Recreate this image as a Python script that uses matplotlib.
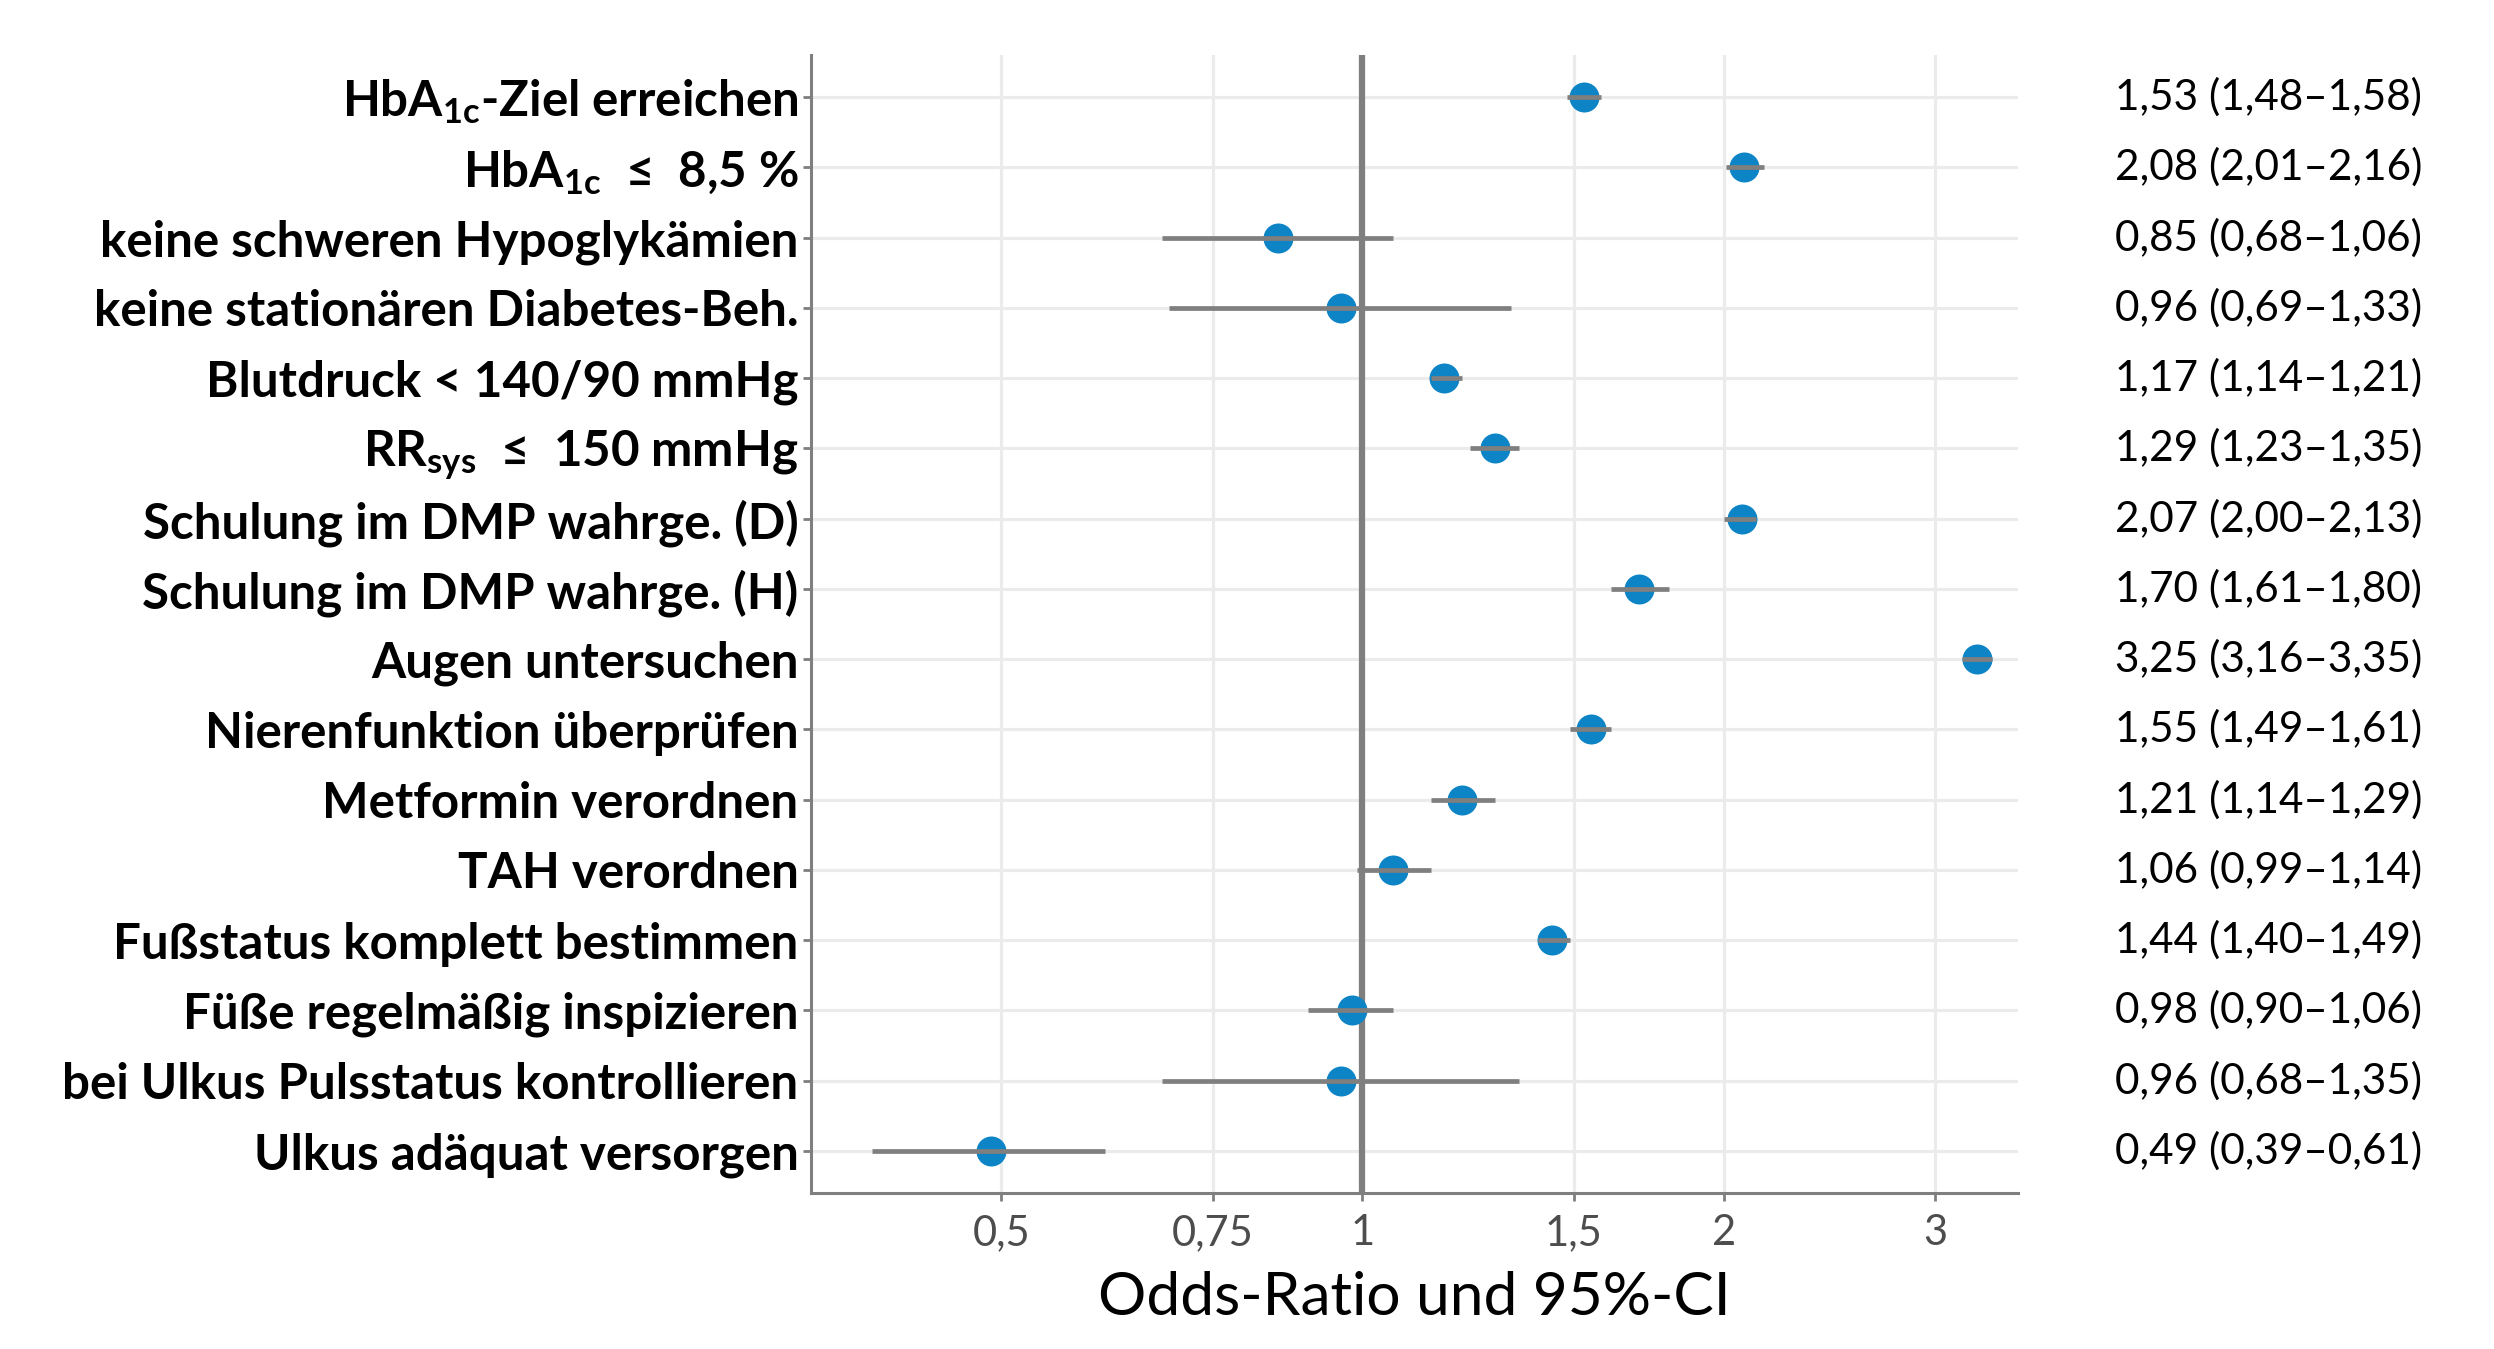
import matplotlib
matplotlib.use("Agg")
import matplotlib.pyplot as plt
import matplotlib.transforms as mtransforms

plt.rcParams['font.family'] = ['Lato', 'DejaVu Sans']
plt.rcParams['mathtext.fontset'] = 'custom'
plt.rcParams['mathtext.rm'] = 'Lato:bold'
plt.rcParams['mathtext.bf'] = 'Lato:bold'
plt.rcParams['mathtext.it'] = 'Lato:bold:italic'

# Outcomes, top to bottom
labels = [
    'HbA$_\\mathrm{1c}$-Ziel erreichen',
    'HbA$_\\mathrm{1c}$  \u2264  8,5 %',
    'keine schweren Hypoglykämien',
    'keine stationären Diabetes-Beh.',
    'Blutdruck < 140/90 mmHg',
    'RR$_\\mathrm{sys}$  \u2264  150 mmHg',
    'Schulung im DMP wahrge. (D)',
    'Schulung im DMP wahrge. (H)',
    'Augen untersuchen',
    'Nierenfunktion überprüfen',
    'Metformin verordnen',
    'TAH verordnen',
    'Fußstatus komplett bestimmen',
    'Füße regelmäßig inspizieren',
    'bei Ulkus Pulsstatus kontrollieren',
    'Ulkus adäquat versorgen',
]
odds_ratio = [1.53, 2.08, 0.85, 0.96, 1.17, 1.29, 2.07, 1.70, 3.25, 1.55, 1.21, 1.06, 1.44, 0.98, 0.96, 0.49]
ci_low = [1.48, 2.01, 0.68, 0.69, 1.14, 1.23, 2.00, 1.61, 3.16, 1.49, 1.14, 0.99, 1.40, 0.90, 0.68, 0.39]
ci_high = [1.58, 2.16, 1.06, 1.33, 1.21, 1.35, 2.13, 1.80, 3.35, 1.61, 1.29, 1.14, 1.49, 1.06, 1.35, 0.61]

x_ticks = [0.5, 0.75, 1, 1.5, 2, 3]
x_ticklabels = ['0,5', '0,75', '1', '1,5', '2', '3']

def fmt(v):
    return f'{v:.2f}'.replace('.', ',')

fig = plt.figure(figsize=(24.94, 13.49), dpi=100)
ax = fig.add_axes([0.3252, 0.1156, 0.4840, 0.8436])

rows = list(range(1, len(labels) + 1))
grey = '#7f7f7f'

ax.set_xscale('log')
ax.set_xlim(0.347, 3.52)
ax.set_ylim(len(labels) + 0.6, 0.4)

ax.grid(True, which='major', color='#ebebeb', linewidth=2.3, zorder=0)
ax.minorticks_off()
ax.set_axisbelow(True)

ax.axvline(1, color=grey, linewidth=4.5, zorder=2, solid_capstyle='round')

ax.plot(odds_ratio, rows, 'o', color='#0c84c6', markersize=21.6,
        markeredgewidth=0, zorder=3)
ax.hlines(rows, ci_low, ci_high, color=grey, linewidth=3.4, zorder=4)

ax.set_xticks(x_ticks)
ax.set_xticklabels(x_ticklabels)
ax.set_yticks(rows)
ax.set_yticklabels(labels, fontweight='bold')

ax.tick_params(axis='y', length=6, width=2, color=grey, pad=3,
               labelsize=35.5, labelcolor='black')
ax.tick_params(axis='x', length=6, width=2, color=grey, pad=9,
               labelsize=30, labelcolor='#4d4d4d')

for side in ['top', 'right']:
    ax.spines[side].set_visible(False)
for side in ['left', 'bottom']:
    ax.spines[side].set_color(grey)
    ax.spines[side].set_linewidth(2.2)

ax.set_xlabel('Odds-Ratio und 95%-CI', fontsize=43.5, color='black', labelpad=14)

# Right-hand column with OR and CI
trans = mtransforms.blended_transform_factory(fig.transFigure, ax.transData)
for r, o, lo, hi in zip(rows, odds_ratio, ci_low, ci_high):
    ax.text(0.9096, r, f'{fmt(o)} ({fmt(lo)}\u2013{fmt(hi)})', transform=trans,
            ha='center', va='center', fontsize=30.4, color='black')

plt.savefig('out.png', dpi=100)
